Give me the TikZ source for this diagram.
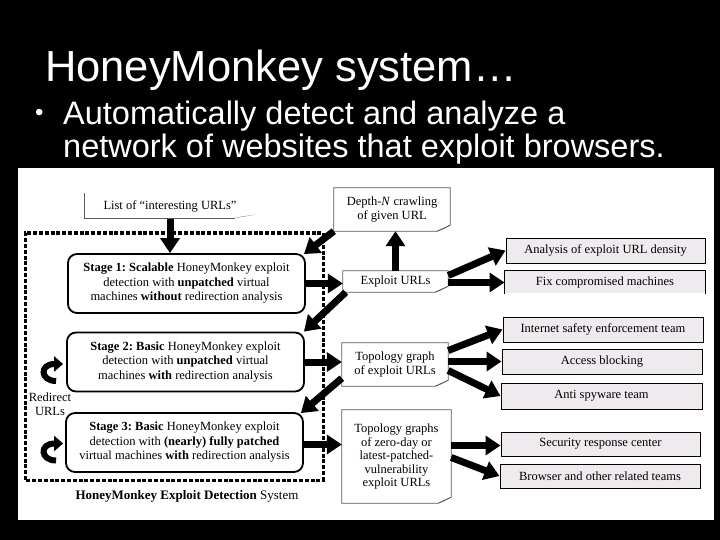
\documentclass[tikz,border=0pt]{standalone}
\usepackage{fontspec}
\setmainfont{Liberation Serif}
\newfontfamily\slidefont{Liberation Sans}
\usetikzlibrary{arrows.meta,calc}
\definecolor{outfill}{RGB}{238,234,238}
\definecolor{notegray}{RGB}{90,90,90}
\frenchspacing
\begin{document}
\begin{tikzpicture}[x=1pt,y=-1pt,
  bigarrow/.style={line width=7pt,-{Triangle[length=15pt,width=19pt]}},
  curlarrow/.style={line width=6pt,-{Triangle[length=9pt,width=15pt]}},
  stagebox/.style={draw,line width=1.8pt,rounded corners=9pt,fill=white,minimum width=237pt,minimum height=59pt,inner sep=0pt,align=center,font=\fontsize{12.5}{14.5}\selectfont},
  notebox/.style={inner sep=0pt,align=center,font=\fontsize{12.5}{13.5}\selectfont},
  noteline/.style={draw=notegray,line width=0.7pt},
  outbox/.style={draw,line width=1pt,fill=outfill,inner sep=0pt,minimum width=200pt,minimum height=25pt,font=\fontsize{12.5}{14}\selectfont},
  frameline/.style={line width=3pt,dash pattern=on 4pt off 1.8pt},
  slidetext/.style={text=white,anchor=base west,inner sep=0pt,font=\slidefont\fontsize{32.5}{36}\selectfont}
]
\useasboundingbox (0,0) rectangle (720,540);
\fill[black] (0,0) rectangle (720,540);
\fill[white] (18,168) rectangle (714,520);

% slide text
\node[slidetext,font=\slidefont\fontsize{43.5}{50}\selectfont] (title) at (45,82) {HoneyMonkey system…};
\node[slidetext,font=\slidefont\fontsize{24}{28}\selectfont] (bul) at (35,121) {•};
\node[slidetext] (line1) at (63,125) {Automatically detect and analyze a};
\node[slidetext] (line2) at (63,158) {network of websites that exploit browsers.};

% detection system frame
\draw[frameline] (25,480) -- (25,233) -- (323,233) -- (323,480) -- cycle;

% list of urls
\node[notebox,minimum width=170pt,minimum height=25pt] (list) at (170,206) {List of “interesting URLs”};
\draw[noteline] (list.north west) -- (list.south west) -- ([xshift=-20pt]list.south east);
\fill[notegray] ([xshift=-24pt]list.south east) -- ([xshift=0pt,yshift=4pt]list.south east) -- ([xshift=-14pt,yshift=2pt]list.south east) -- cycle;

% stages
\node[stagebox] (stage1) at (186.5,283.5) {\textbf{Stage 1: Scalable} HoneyMonkey exploit\\detection with \textbf{unpatched} virtual\\machines \textbf{without} redirection analysis};
\node[stagebox] (stage2) at (185.5,362) {\textbf{Stage 2: Basic} HoneyMonkey exploit\\detection with \textbf{unpatched} virtual\\machines \textbf{with} redirection analysis};
\node[stagebox] (stage3) at (184.5,442.5) {\textbf{Stage 3: Basic} HoneyMonkey exploit\\detection with \textbf{(nearly) fully patched}\\virtual machines \textbf{with} redirection analysis};

\node[notebox,font=\fontsize{12.5}{14}\selectfont] (redir) at (50,404) {Redirect\\URLs};
\node[notebox,font=\fontsize{13}{15}\selectfont] (caption) at (187,496) {\textbf{HoneyMonkey Exploit Detection} System};

% note boxes
\node[notebox,minimum width=116pt,minimum height=43pt] (depth) at (392,209.5) {Depth-\textit{N} crawling\\of given URL};
\node[notebox,minimum width=105pt,minimum height=21pt] (exploit) at (395.5,281.5) {Exploit URLs};
\node[notebox,minimum width=106pt,minimum height=43pt] (topo1) at (395,364.5) {Topology graph\\of exploit URLs};
\node[notebox,minimum width=109pt,minimum height=93pt] (topo2) at (396.5,456.5) {Topology graphs\\of zero-day or\\latest-patched-\\vulnerability\\exploit URLs};
\foreach \n in {depth,exploit,topo1,topo2}{
  \draw[noteline] (\n.north west) -- (\n.north east) -- ([yshift=6pt]\n.south east) -- ([xshift=-13pt]\n.south east) -- (\n.south west) -- cycle;
  \draw[noteline,fill=notegray!60] ([yshift=6pt]\n.south east) -- ([xshift=-8pt,yshift=2pt]\n.south east) -- ([xshift=-13pt]\n.south east);
}

% output boxes
\node[outbox,minimum width=199pt] (analysis) at (605.5,250.5) {Analysis of exploit URL density};
\node[outbox,draw=none,minimum height=22pt] (fix) at (605,282) {Fix compromised machines};
\draw[line width=1pt] (fix.south west) -- (fix.north west) -- (fix.north east) -- (fix.south east);
\node[outbox] (internet) at (603,329.5) {Internet safety enforcement team};
\node[outbox] (access) at (602,361.5) {Access blocking};
\node[outbox,minimum width=201pt,minimum height=26pt] (anti) at (601.5,396) {Anti spyware team};
\node[outbox,minimum width=199pt,minimum height=24pt] (security) at (600.5,444) {Security response center};
\node[outbox,minimum height=24pt] (browser) at (600,476) {Browser and other related teams};

% arrows
\draw[bigarrow] (list.south) -- (list.south |- stage1.north);
\draw[bigarrow] (depth.south west) -- ([xshift=-2pt,yshift=-1pt]stage1.north east);
\draw[bigarrow] (stage1.east) -- (stage1.east -| exploit.west);
\draw[bigarrow] (exploit.north) -- (exploit.north |- depth.south);
\draw[bigarrow] ([xshift=3pt]exploit.south west) -- ([xshift=-1pt]stage2.north east);
\draw[bigarrow] (stage2.east) -- (stage2.east -| topo1.west);
\draw[bigarrow] ([yshift=8pt]topo1.south west) -- ([xshift=-3pt,yshift=-1pt]stage3.north east);
\draw[bigarrow] ([yshift=-2pt]stage3.east) -- ([yshift=-2pt]stage3.east -| topo2.west);

\draw[bigarrow] ([yshift=6pt]exploit.east) -- (analysis.west);
\draw[bigarrow] ([yshift=-1pt]exploit.east) -- ([yshift=-1pt]exploit.east -| fix.west);
\draw[bigarrow] ([yshift=14pt]topo1.east) -- (internet.west);
\draw[bigarrow] ([yshift=3pt]topo1.east) -- ([yshift=3pt]topo1.east -| access.west);
\draw[bigarrow] ([yshift=-6pt]topo1.east) -- (anti.west);
\draw[bigarrow] ([yshift=11pt]topo2.east) -- ([yshift=11pt]topo2.east -| security.west);
\draw[bigarrow] ([yshift=-1pt]topo2.east) -- (browser.west);

% redirect curls
\draw[curlarrow] ($(stage2.west)+(-10,19)$) .. controls ($(stage2.west)+(-26,19)$) and ($(stage2.west)+(-27,2)$) .. ($(stage2.west)+(-3,2)$);
\draw[curlarrow] ($(stage3.west)+(-9,18)$) .. controls ($(stage3.west)+(-25,18)$) and ($(stage3.west)+(-26,1)$) .. ($(stage3.west)+(-2,1)$);
\end{tikzpicture}
\end{document}
